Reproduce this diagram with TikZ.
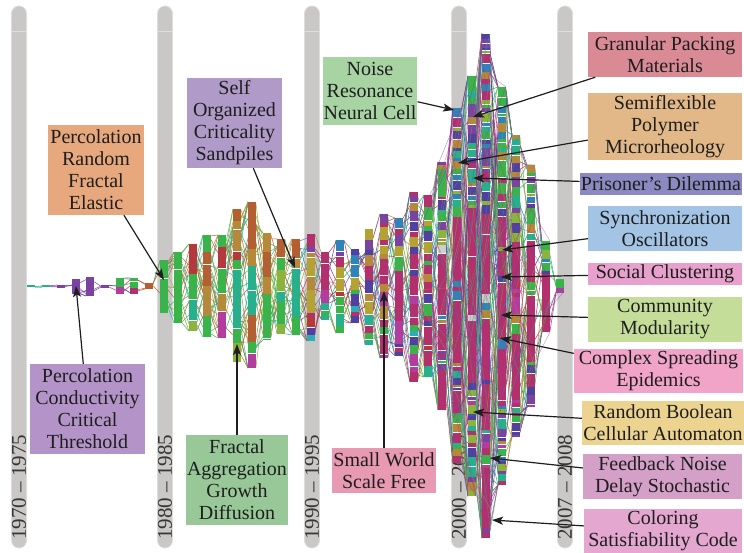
\documentclass[tikz,border=0pt]{standalone}
\usepackage{fontspec}
\setmainfont{Liberation Serif}
\usetikzlibrary{arrows.meta}

% era bars and ink
\definecolor{barGrey}{HTML}{C9C8C6}
\definecolor{barEdge}{HTML}{DEDDDC}
\definecolor{inkDark}{HTML}{1E1E1E}
\definecolor{yearInk}{HTML}{363636}
% stream colours
\definecolor{cMag}{HTML}{B3306F}
\definecolor{cGreen}{HTML}{3BB34B}
\definecolor{cLime}{HTML}{8CB33C}
\definecolor{cTeal}{HTML}{27B08B}
\definecolor{cBrown}{HTML}{B35F32}
\definecolor{cGold}{HTML}{B5883A}
\definecolor{cPur}{HTML}{7A43A0}
\definecolor{cBluP}{HTML}{5040A0}
\definecolor{cBlue}{HTML}{2E84B8}
\definecolor{cRed}{HTML}{B4383C}
\definecolor{cOrch}{HTML}{B23D9E}
\definecolor{cMust}{HTML}{B4A232}
\definecolor{cGrey}{HTML}{D2CDCD}
\definecolor{cCyan}{HTML}{28AEB4}
% topic box fills
\definecolor{bxPercR}{HTML}{E8A87E}
\definecolor{bxSelf}{HTML}{B09AC8}
\definecolor{bxNoise}{HTML}{A8D4A4}
\definecolor{bxGran}{HTML}{D98A94}
\definecolor{bxSemi}{HTML}{E2B888}
\definecolor{bxPris}{HTML}{8C88C2}
\definecolor{bxSync}{HTML}{A4C4E6}
\definecolor{bxSocial}{HTML}{E8A0CC}
\definecolor{bxComm}{HTML}{C4DE9A}
\definecolor{bxComplex}{HTML}{F2A4C8}
\definecolor{bxRBool}{HTML}{ECD490}
\definecolor{bxFeed}{HTML}{D4A0C8}
\definecolor{bxColor}{HTML}{E4A8D0}
\definecolor{bxPercC}{HTML}{B494C8}
\definecolor{bxFractal}{HTML}{98C898}
\definecolor{bxSmall}{HTML}{E89AB2}

% segment colour lists per group and zone (top / middle / bottom)
\pgfmathdeclarerandomlist{T1}{{cTeal}}
\pgfmathdeclarerandomlist{T2}{{cTeal}}
\pgfmathdeclarerandomlist{T3}{{cTeal}}
\pgfmathdeclarerandomlist{P1}{{cPur}}
\pgfmathdeclarerandomlist{P2}{{cPur}}
\pgfmathdeclarerandomlist{P3}{{cPur}}
\pgfmathdeclarerandomlist{G1}{{cGreen}{cLime}}
\pgfmathdeclarerandomlist{G2}{{cMag}{cOrch}{cMag}}
\pgfmathdeclarerandomlist{G3}{{cPur}{cMag}}
\pgfmathdeclarerandomlist{B1}{{cBrown}}
\pgfmathdeclarerandomlist{B2}{{cBrown}}
\pgfmathdeclarerandomlist{B3}{{cBrown}}
\pgfmathdeclarerandomlist{E1}{{cBrown}{cBrown}{cGold}{cBrown}{cGold}{cRed}{cPur}{cGreen}}
\pgfmathdeclarerandomlist{E2}{{cTeal}{cBrown}{cGreen}{cLime}{cGold}{cTeal}{cGreen}}
\pgfmathdeclarerandomlist{E3}{{cLime}{cGreen}{cGreen}{cLime}{cTeal}{cOrch}{cGreen}}
\pgfmathdeclarerandomlist{N1}{{cGold}{cBlue}{cBluP}{cGreen}{cMag}{cMust}{cPur}{cMag}}
\pgfmathdeclarerandomlist{N2}{{cMag}{cGold}{cBluP}{cRed}{cOrch}{cGreen}{cMust}{LM}{cMag}}
\pgfmathdeclarerandomlist{N3}{{cMag}{cRed}{cOrch}{cTeal}{cGreen}{cBluP}{LM}{cCyan}}
\pgfmathdeclarerandomlist{M1}{{cGreen}{cGreen}{cMag}{cBluP}{cTeal}{cPur}{cLime}{cGold}{cBlue}{cGreen}}
\pgfmathdeclarerandomlist{M2}{{LM}{LM}{LM}{cMag}{cBluP}{cGold}{cGreen}{cBlue}{cOrch}{cGrey}{cLime}{LM}}
\pgfmathdeclarerandomlist{M3}{{cGreen}{cMag}{cBluP}{cGold}{cBlue}{cPur}{cLime}{cTeal}{LM}{cOrch}{cMag}}
% connector colour lists per group
\pgfmathdeclarerandomlist{lnT}{{cTeal}}
\pgfmathdeclarerandomlist{lnP}{{cPur}}
\pgfmathdeclarerandomlist{lnG}{{cGreen}{cMag}{cPur}}
\pgfmathdeclarerandomlist{lnB}{{cBrown}}
\pgfmathdeclarerandomlist{lnE}{{cBrown}{cTeal}{cGreen}{cLime}{cGold}{cTeal}{cBrown}}
\pgfmathdeclarerandomlist{lnN}{{cGold}{cMag}{cBluP}{cBlue}{cGreen}{cOrch}{cRed}{cLime}{cTeal}{cMag}}
\pgfmathdeclarerandomlist{lnM}{{cMag}{cMag}{cGreen}{cBluP}{cGold}{cBlue}{cTeal}{cOrch}{cLime}{cGreen}{cPur}}

% segment heights: short range, long-magenta range, chance of a white gap
\def\hloT{2}\def\hhiT{2}\def\mloT{2}\def\mhiT{2}\def\gapT{0}
\def\hloP{30}\def\hhiP{30}\def\mloP{30}\def\mhiP{30}\def\gapP{0}
\def\hloG{3}\def\hhiG{7}\def\mloG{3}\def\mhiG{7}\def\gapG{20}
\def\hloB{10}\def\hhiB{10}\def\mloB{10}\def\mhiB{10}\def\gapB{0}
\def\hloE{8}\def\hhiE{30}\def\mloE{8}\def\mhiE{30}\def\gapE{40}
\def\hloN{4}\def\hhiN{14}\def\mloN{10}\def\mhiN{30}\def\gapN{30}
\def\hloM{3}\def\hhiM{10}\def\mloM{20}\def\mhiM{70}\def\gapM{35}

\def\LMtag{LM}

% columns: x / top / bottom / group
\def\collist{31/285.5/287.5/T, 46/285.5/287.5/T, 61/285/288/P, 76/279/294/P,
 90/277/296/P, 105/285/288/P, 120/278/294/G, 134/278/294/G, 149/283/289/B,
 164/260/313/E, 178/252/323/E, 193/244/331/E, 207/235/337/E, 222/235/338/E,
 237/209/362/E, 252/202/368/E, 267/233/340/E, 281/239/334/E, 296/239/335/E,
 311/234/341/N, 325/252/320/N, 340/240/333/N, 355/249/323/N, 369/229/345/N,
 384/214/358/N, 399/218/356/N, 414/192/382/N, 428/195/377/N,
 442/162/410/M, 457/108/463/M, 472/76/496/M, 486/34/538/M, 502/87/485/M,
 516/135/437/M, 531/165/407/M, 546/241/332/M, 560/279/293/M}

% one stacked column of coloured segments
\newcommand\drawstack{%
  \edef\hlo{\csname hlo\colgrp\endcsname}%
  \edef\hhi{\csname hhi\colgrp\endcsname}%
  \edef\mlo{\csname mlo\colgrp\endcsname}%
  \edef\mhi{\csname mhi\colgrp\endcsname}%
  \edef\gpc{\csname gap\colgrp\endcsname}%
  \let\cury\coltop
  \loop
    \pgfmathsetmacro\rel{(\cury-\coltop)/(\colbot-\coltop+0.01)}%
    \pgfmathtruncatemacro\zone{\rel<0.3 ? 1 : (\rel<0.7 ? 2 : 3)}%
    \pgfmathrandomitem{\segc}{\colgrp\zone}%
    \edef\segc{\segc}%
    \ifx\segc\LMtag
      \def\segc{cMag}%
      \pgfmathrandominteger{\segh}{\mlo}{\mhi}%
    \else
      \pgfmathrandominteger{\segh}{\hlo}{\hhi}%
    \fi
    \pgfmathsetmacro\nexty{min(\cury+\segh,\colbot)}%
    \fill[fill=\segc] (\colx-4,\cury) rectangle (\colx+4,\nexty);
    \pgfmathrandominteger{\gaproll}{1}{100}%
    \ifdim\nexty pt<\colbot pt
      \ifnum\gaproll<\gpc\relax
        \fill[white] (\colx-4,\nexty-0.7) rectangle (\colx+4,\nexty+0.7);
      \fi
    \fi
    \let\cury\nexty
  \ifdim\cury pt<\colbot pt\repeat
}

\begin{document}
\begin{tikzpicture}[x=1pt,y=-1pt,
  lbl/.style={inner sep=1pt, text=inkDark, align=center,
    font=\fontsize{20}{22}\selectfont},
  ptr/.style={draw=inkDark, line width=1.2pt,
    -{Stealth[length=11pt,width=8pt,inset=2.5pt]}},
  flowline/.style={line width=0.6pt, opacity=0.85},
  era/.style={fill=barGrey, draw=barEdge, line width=0.8pt, rounded corners=7.5pt},
  yearlbl/.style={rotate=90, text=yearInk, inner sep=0pt,
    font=\fontsize{21}{21}\selectfont}]
\pgfmathsetseed{7}
\fill[white] (0,0) rectangle (744,553);
\useasboundingbox (0,0) rectangle (744,553);

% era bars with their year ranges
\foreach \bx/\yr [count=\bi] in {19/1970 \textendash{} 1975, 165/1980 \textendash{} 1985,
    312/1990 \textendash{} 1995, 459/2000 \textendash{} 2005, 565/2007 \textendash{} 2008}{
  \draw[era] (\bx-7.5,6) rectangle (\bx+7.5,548);
  \draw[barEdge, line width=0.8pt] (\bx-7.5,31) -- (\bx+7.5,31);
  \node[yearlbl] (year\bi) at (\bx,487) {\yr};
}

% connectors between neighbouring columns
\gdef\pvx{}
\foreach \colx/\coltop/\colbot/\colgrp in \collist {%
  \ifx\pvx\empty\else
    \pgfmathtruncatemacro\nl{min(\colbot-\coltop,\pvb-\pvt)/4+3}%
    \foreach \k in {1,...,\nl}{%
      \pgfmathsetmacro\ra{rnd}%
      \pgfmathsetmacro\rb{max(0,min(1,\ra+0.7*(rnd-0.5)))}%
      \pgfmathrandomitem{\lc}{ln\colgrp}%
      \draw[flowline, draw=\lc] ({\pvx+4},{\pvt+\ra*(\pvb-\pvt)})
        -- ({\colx-4},{\coltop+\rb*(\colbot-\coltop)});
    }%
  \fi
  \xdef\pvx{\colx}\xdef\pvt{\coltop}\xdef\pvb{\colbot}%
}

% stacked columns
\foreach \colx/\coltop/\colbot/\colgrp in \collist {\drawstack}

% a few connectors crossing over the dense columns
\gdef\pvx{}
\foreach \colx/\coltop/\colbot/\colgrp in \collist {%
  \ifx\pvx\empty\else
    \if M\colgrp
      \pgfmathtruncatemacro\nl{min(\colbot-\coltop,\pvb-\pvt)/25+2}%
      \foreach \k in {1,...,\nl}{%
        \pgfmathsetmacro\ra{rnd}%
        \pgfmathsetmacro\rb{max(0,min(1,\ra+0.8*(rnd-0.5)))}%
        \pgfmathrandomitem{\lc}{lnM}%
        \draw[line width=0.5pt, opacity=0.5, draw=\lc] ({\pvx-4},{\pvt+\ra*(\pvb-\pvt)})
          -- ({\colx+4},{\coltop+\rb*(\colbot-\coltop)});
      }%
    \fi
  \fi
  \xdef\pvx{\colx}\xdef\pvt{\coltop}\xdef\pvb{\colbot}%
}

% topic boxes
\node[lbl, fill=bxPercR, minimum width=96pt, minimum height=90pt] (percR) at (96,170)
  {Percolation\\Random\\Fractal\\Elastic};
\node[lbl, fill=bxSelf, minimum width=95pt, minimum height=90pt] (selfOrg) at (234.5,123)
  {Self\\Organized\\Criticality\\Sandpiles};
\node[lbl, fill=bxNoise, minimum width=94pt, minimum height=68pt] (noise) at (370,91)
  {Noise\\Resonance\\Neural Cell};
\node[lbl, fill=bxGran, minimum width=154pt, minimum height=45pt] (granular) at (665,54.5)
  {Granular Packing\\Materials};
\node[lbl, fill=bxSemi, minimum width=154pt, minimum height=67pt] (semiflex) at (665,126.5)
  {Semiflexible\\Polymer\\Microrheology};
\node[lbl, fill=bxPris, minimum width=162pt, minimum height=22pt] (prisoner) at (661,184)
  {Prisoner\textquoteright s Dilemma};
\node[lbl, fill=bxSync, minimum width=154pt, minimum height=45pt] (sync) at (665,228.5)
  {Synchronization\\Oscillators};
\node[lbl, fill=bxSocial, minimum width=154pt, minimum height=22pt] (social) at (665,274)
  {Social Clustering};
\node[lbl, fill=bxComm, minimum width=154pt, minimum height=45pt] (community) at (665,319.5)
  {Community\\Modularity};
\node[lbl, fill=bxComplex, minimum width=169pt, minimum height=44pt] (complex) at (658.5,371)
  {Complex Spreading\\Epidemics};
\node[lbl, fill=bxRBool, minimum width=162pt, minimum height=44pt] (rbool) at (663,423)
  {Random Boolean\\Cellular Automaton};
\node[lbl, fill=bxFeed, minimum width=159pt, minimum height=45pt] (feedback) at (662.5,476.5)
  {Feedback Noise\\Delay Stochastic};
\node[lbl, fill=bxColor, minimum width=158pt, minimum height=44pt] (coloring) at (663,531)
  {Coloring\\Satisfiability Code};
\node[lbl, fill=bxPercC, minimum width=115pt, minimum height=90pt] (percC) at (87.5,409)
  {Percolation\\Conductivity\\Critical\\Threshold};
\node[lbl, fill=bxFractal, minimum width=100pt, minimum height=90pt] (fractal) at (237,480)
  {Fractal\\Aggregation\\Growth\\Diffusion};
\node[lbl, fill=bxSmall, minimum width=104pt, minimum height=45pt] (smallW) at (384,470.5)
  {Small World\\Scale Free};

% where each topic points into the stream
\coordinate (tPercR) at (164,280);
\coordinate (tSelf) at (295,268);
\coordinate (tNoise) at (454,110);
\coordinate (tGranular) at (473,117);
\coordinate (tSemi) at (458,163);
\coordinate (tPris) at (473,178);
\coordinate (tSync) at (502,250);
\coordinate (tSocial) at (501,277);
\coordinate (tComm) at (501,315);
\coordinate (tComplex) at (500,338);
\coordinate (tRBool) at (473,412);
\coordinate (tFeed) at (490,458);
\coordinate (tColor) at (492,520);
\coordinate (tPercC) at (76,286);
\coordinate (tFractal) at (237,344);
\coordinate (tSmall) at (384,291);

\draw[ptr] (percR) -- (tPercR);
\draw[ptr] (selfOrg) -- (tSelf);
\draw[ptr] (noise) -- (tNoise);
\draw[ptr] (granular) -- (tGranular);
\draw[ptr] (semiflex) -- (tSemi);
\draw[ptr] (prisoner) -- (tPris);
\draw[ptr] (sync) -- (tSync);
\draw[ptr] (social) -- (tSocial);
\draw[ptr] (community) -- (tComm);
\draw[ptr] (complex) -- (tComplex);
\draw[ptr] (rbool) -- (tRBool);
\draw[ptr] (feedback) -- (tFeed);
\draw[ptr] (coloring) -- (tColor);
\draw[ptr] (percC) -- (tPercC);
\draw[ptr] (fractal) -- (tFractal);
\draw[ptr] (smallW) -- (tSmall);
\end{tikzpicture}
\end{document}
